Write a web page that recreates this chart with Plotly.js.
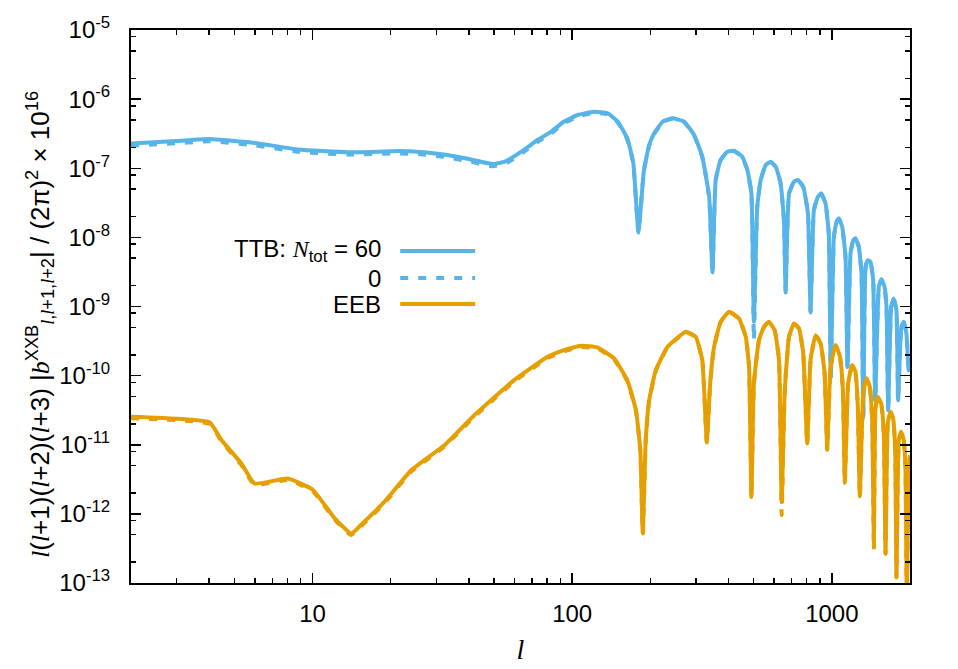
<!DOCTYPE html>
<html>
<head>
<meta charset="utf-8">
<script src="https://cdn.plot.ly/plotly-3.0.1.min.js"></script>
<style>html,body{margin:0;padding:0;background:#fff;}#chart{width:958px;height:669px;}</style>
</head>
<body>
<div id="chart"></div>
<script>
// ---- TTB (blue) ----
const ttbL = [2, 3, 4, 6, 8.8, 13.7, 21.4, 26, 33, 40, 44.5, 49.5, 55, 58, 65, 73.5, 82.8, 92.8, 105, 121, 137, 150, 163, 172, 180,
  189, 198, 207, 223, 243, 270, 295, 317, 337, 347,
  357, 373, 396, 420, 452, 473, 490, 501,
  516, 532, 556, 581, 608, 635, 654, 664,
  684, 715, 740, 776, 809, 828,
  853, 884, 910, 946, 973, 991,
  1018, 1043, 1064, 1096, 1129, 1149,
  1180, 1209, 1233, 1270, 1301, 1321,
  1349, 1375, 1408, 1443, 1469,
  1517, 1553, 1595, 1624, 1648,
  1692, 1730, 1773, 1800,
  1852, 1892, 1937, 1976, 2000];
const ttbN60 = [2.29e-7, 2.48e-7, 2.65e-7, 2.32e-7, 1.87e-7, 1.70e-7, 1.77e-7, 1.72e-7, 1.55e-7, 1.36e-7, 1.24e-7, 1.15e-7, 1.25e-7, 1.39e-7, 1.83e-7, 2.56e-7, 3.37e-7, 4.71e-7, 5.89e-7, 6.57e-7, 6.24e-7, 4.71e-7, 2.71e-7, 1.18e-7, 1.21e-8,
  9.4e-8, 2.17e-7, 3.2e-7, 4.71e-7, 5.27e-7, 4.71e-7, 3.02e-7, 1.47e-7, 3.87e-8, 3.11e-9,
  6.75e-8, 1.32e-7, 1.73e-7, 1.79e-7, 1.47e-7, 9.4e-8, 4.33e-8, 6.0e-10,
  2.77e-8, 6.75e-8, 1.11e-7, 1.24e-7, 1.05e-7, 6.04e-8, 1.78e-8, 1.63e-9,
  4.33e-8, 6.38e-8, 6.75e-8, 5.4e-8, 2.22e-8, 8.4e-10,
  2.48e-8, 3.87e-8, 4.33e-8, 3.1e-8, 1.14e-8, 9.6e-11,
  1.02e-8, 1.68e-8, 1.88e-8, 1.42e-8, 5.24e-9, 1.33e-10,
  5.86e-9, 9.1e-9, 9.7e-9, 7.3e-9, 3.01e-9, 2.43e-11,
  3.76e-9, 4.69e-9, 4.43e-9, 2.41e-9, 4.4e-11,
  1.93e-9, 2.47e-9, 1.93e-9, 9.9e-10, 3.17e-11,
  9.9e-10, 1.31e-9, 8.9e-10, 4.4e-11,
  5.08e-10, 6.0e-10, 4.08e-10, 1.2e-10, 1.86e-10];
const ttbN0 = [2.12e-7, 2.30e-7, 2.45e-7, 2.15e-7, 1.73e-7, 1.58e-7, 1.64e-7, 1.60e-7, 1.44e-7, 1.26e-7, 1.15e-7, 1.07e-7, 1.16e-7, 1.29e-7, 1.71e-7, 2.40e-7, 3.17e-7, 4.45e-7, 5.60e-7, 6.30e-7, 6.00e-7, 4.55e-7, 2.63e-7, 1.15e-7, 1.18e-8,
  9.2e-8, 2.12e-7, 3.13e-7, 4.62e-7, 5.18e-7, 4.64e-7, 2.97e-7, 1.45e-7, 3.8e-8, 3.0e-9,
  6.7e-8, 1.31e-7, 1.72e-7, 1.78e-7, 1.46e-7, 9.3e-8, 4.3e-8, 3.27e-10,
  2.75e-8, 6.7e-8, 1.1e-7, 1.23e-7, 1.04e-7, 6.0e-8, 1.76e-8, 1.6e-9,
  4.3e-8, 6.35e-8, 6.7e-8, 5.35e-8, 2.2e-8, 8.2e-10,
  2.46e-8, 3.85e-8, 4.3e-8, 3.08e-8, 1.13e-8, 9.5e-11,
  1.01e-8, 1.67e-8, 1.87e-8, 1.41e-8, 5.2e-9, 1.3e-10,
  5.8e-9, 9.0e-9, 9.6e-9, 7.25e-9, 3.0e-9, 2.4e-11,
  3.74e-9, 4.66e-9, 4.4e-9, 2.4e-9, 4.3e-11,
  1.92e-9, 2.45e-9, 1.92e-9, 9.8e-10, 3.1e-11,
  9.8e-10, 1.3e-9, 8.8e-10, 4.3e-11,
  5.05e-10, 5.95e-10, 4.05e-10, 1.2e-10, 1.85e-10];

// ---- EEB (orange) ----
const eebL = [2, 4.02, 4.46, 5.32, 5.98, 8.04, 10, 12.2, 14.1, 15.8, 18.9, 24, 32.2, 42, 59.8, 80.4, 93, 108, 125, 145, 163, 176, 183, 187,
  192, 198, 210, 233, 274, 299, 317, 330,
  340, 352, 373, 402, 439, 466, 480, 490,
  501, 524, 548, 572, 602, 626, 641,
  658, 684, 715, 747, 776, 804,
  828, 866, 905, 938, 960,
  989, 1034, 1075, 1103, 1122,
  1156, 1197, 1233, 1259, 1282,
  1321, 1359, 1400, 1430, 1452,
  1472, 1503, 1549, 1585, 1610,
  1642, 1682, 1722, 1754, 1774,
  1811, 1849, 1892, 1921, 1944, 1975, 2000];
const eebN60 = [2.54e-11, 2.10e-11, 1.17e-11, 5.36e-12, 2.75e-12, 3.25e-12, 2.25e-12, 8.57e-13, 5.2e-13, 7.66e-13, 1.49e-12, 4.28e-12, 9.86e-12, 2.68e-11, 8.6e-11, 1.87e-10, 2.34e-10, 2.7e-10, 2.56e-10, 1.77e-10, 8.6e-11, 3.17e-11, 8.36e-12, 5.2e-13,
  1.17e-11, 4.43e-11, 1.2e-10, 2.61e-10, 4.31e-10, 3.65e-10, 1.68e-10, 1.1e-11,
  7.71e-11, 2.61e-10, 6.0e-10, 8.38e-10, 6.72e-10, 3.65e-10, 1.34e-10, 1.76e-12,
  7.71e-11, 3.27e-10, 5.08e-10, 6.0e-10, 4.55e-10, 1.68e-10, 1.49e-12,
  5.52e-11, 3.65e-10, 5.69e-10, 4.82e-10, 2.09e-10, 1.04e-11,
  1.68e-10, 3.85e-10, 2.92e-10, 1.08e-10, 8.55e-12,
  1.34e-10, 2.76e-10, 1.87e-10, 6.17e-11, 2.81e-12,
  7.71e-11, 1.42e-10, 1.14e-10, 3.54e-11, 1.8e-12,
  5.52e-11, 9.1e-11, 6.89e-11, 2.27e-11, 4.17e-13,
  3.17e-11, 4.93e-11, 3.96e-11, 1.46e-11, 2.67e-13,
  2.03e-11, 2.99e-11, 2.4e-11, 8.36e-12, 1.22e-13,
  1.17e-11, 1.54e-11, 1.17e-11, 4.79e-12, 5e-14, 4e-12, 7e-12];
const eebN0 = [2.42e-11, 2.00e-11, 1.12e-11, 5.1e-12, 2.62e-12, 3.1e-12, 2.15e-12, 8.2e-13, 4.95e-13, 7.3e-13, 1.42e-12, 4.08e-12, 9.4e-12, 2.55e-11, 8.2e-11, 1.79e-10, 2.24e-10, 2.6e-10, 2.47e-10, 1.71e-10, 8.3e-11, 3.1e-11, 8.2e-12, 5.1e-13,
  1.15e-11, 4.36e-11, 1.18e-10, 2.57e-10, 4.25e-10, 3.6e-10, 1.66e-10, 1.08e-11,
  7.6e-11, 2.58e-10, 5.95e-10, 8.3e-10, 6.65e-10, 3.62e-10, 1.33e-10, 1.74e-12,
  7.65e-11, 3.24e-10, 5.04e-10, 5.95e-10, 4.52e-10, 1.67e-10, 9.6e-13,
  5.48e-11, 3.62e-10, 5.65e-10, 4.79e-10, 2.08e-10, 1.03e-11,
  1.67e-10, 3.82e-10, 2.9e-10, 1.07e-10, 8.5e-12,
  1.33e-10, 2.74e-10, 1.86e-10, 6.13e-11, 2.79e-12,
  7.66e-11, 1.41e-10, 1.13e-10, 3.52e-11, 1.79e-12,
  5.49e-11, 9.05e-11, 6.86e-11, 2.26e-11, 2.99e-13,
  3.15e-11, 4.9e-11, 3.94e-11, 1.45e-11, 2.65e-13,
  2.02e-11, 2.97e-11, 2.39e-11, 8.3e-12, 1.2e-13,
  1.16e-11, 1.53e-11, 1.16e-11, 4.75e-12, 5e-14, 4e-12, 7e-12];

// ---- axis ticks ----
const xTickVals = [10, 100, 1000];
const xTickText = ['10', '100', '1000'];
const yTickVals = [1e-13, 1e-12, 1e-11, 1e-10, 1e-9, 1e-8, 1e-7, 1e-6, 1e-5];
const yTickText = ['10<sup>-13</sup>', '10<sup>-12</sup>', '10<sup>-11</sup>', '10<sup>-10</sup>', '10<sup>-9</sup>', '10<sup>-8</sup>', '10<sup>-7</sup>', '10<sup>-6</sup>', '10<sup>-5</sup>'];
const xMinorDigits = [2, 3, 4, 5, 6, 7, 8, 9];
const yMinorDigits = [2, 5, 8];

const legendLabels = ['TTB: <span style="font-family:\'Liberation Serif\',serif"><i>N</i></span><sub>tot</sub> = 60', '0', 'EEB'];

const BLUE = '#56B4E9';
const ORANGE = '#E69F00';

const xMinor = [];
[1, 10, 100, 1000].forEach(d => xMinorDigits.forEach(k => { const v = k * d; if (v > 2 && v < 2000) xMinor.push(v); }));
const yMinor = [];
for (let e = -13; e < -5; e++) yMinorDigits.forEach(k => yMinor.push(k * Math.pow(10, e)));

const LW = 4;
const SM = 0.4;
const data = [
  {x: ttbL, y: ttbN60, mode: 'lines', line: {color: BLUE, width: LW, shape: 'spline', smoothing: SM}, showlegend: false, hoverinfo: 'skip'},
  {x: ttbL, y: ttbN0, mode: 'lines', line: {color: BLUE, width: LW, dash: '8px,10px', shape: 'spline', smoothing: SM}, showlegend: false, hoverinfo: 'skip'},
  {x: eebL, y: eebN60, mode: 'lines', line: {color: ORANGE, width: LW, shape: 'spline', smoothing: SM}, showlegend: false, hoverinfo: 'skip'},
  {x: eebL, y: eebN0, mode: 'lines', line: {color: ORANGE, width: LW, dash: '8px,10px', shape: 'spline', smoothing: SM}, showlegend: false, hoverinfo: 'skip'}
];

const serif = "'Liberation Serif', 'DejaVu Serif', serif";
const it = s => '<span style="font-family:' + serif + '"><i>' + s + '</i></span>';
const yTitle = it('l') + '(' + it('l') + '+1)(' + it('l') + '+2)(' + it('l') + '+3) |' + it('b') +
  '<sup>XXB</sup><sub>' + it('l') + ',' + it('l') + '+1,' + it('l') + '+2</sub>| / (2π)<sup>2</sup> × 10<sup>16</sup>';

const rowY = [0.6004, 0.5515, 0.5045];
const annotations = legendLabels.map((t, i) => ({
  xref: 'paper', yref: 'paper', x: 0.3237, y: rowY[i], xanchor: 'right', yanchor: 'middle',
  text: t, showarrow: false, font: {size: 24, color: '#000'}
}));
// y-axis title as a rotated annotation (placed like the reference)
annotations.push({
  xref: 'paper', yref: 'paper', x: -0.117, y: 0.468, xanchor: 'center', yanchor: 'middle',
  text: yTitle, textangle: -90, showarrow: false, font: {size: 26, color: '#000'}
});
const sampleStyle = [
  {color: BLUE, width: LW},
  {color: BLUE, width: LW, dash: '8px,10px'},
  {color: ORANGE, width: LW}
];
const shapes = rowY.map((yy, i) => ({
  type: 'line', xref: 'paper', yref: 'paper', x0: 0.3456, x1: 0.4418, y0: yy, y1: yy, line: sampleStyle[i]
}));

const axisCommon = {
  showline: true, linecolor: '#000', linewidth: 2, mirror: 'ticks',
  ticks: 'inside', ticklen: 10, tickwidth: 1.5, tickcolor: '#000',
  showgrid: false, zeroline: false
};

const layout = {
  width: 958, height: 669,
  margin: {l: 131, r: 48, t: 30, b: 86},
  paper_bgcolor: '#fff', plot_bgcolor: '#fff',
  font: {family: "'Liberation Sans', Arial, Helvetica, sans-serif", size: 24, color: '#000'},
  xaxis: Object.assign({}, axisCommon, {
    type: 'log', range: [Math.log10(2), Math.log10(2000)],
    tickmode: 'array', tickvals: xTickVals, ticktext: xTickText,
    ticklabelstandoff: 8,
    minor: {tickmode: 'array', tickvals: xMinor, ticks: 'inside', ticklen: 5, tickwidth: 1.5, tickcolor: '#000', showgrid: false},
    title: {text: it('l'), font: {size: 28}, standoff: 14}
  }),
  yaxis: Object.assign({}, axisCommon, {
    type: 'log', range: [-13, -5],
    tickmode: 'array', tickvals: yTickVals, ticktext: yTickText,
    ticklabelstandoff: 14,
    minor: {tickmode: 'array', tickvals: yMinor, ticks: 'inside', ticklen: 5, tickwidth: 1.5, tickcolor: '#000', showgrid: false}
  }),
  annotations: annotations,
  shapes: shapes
};

Plotly.newPlot('chart', data, layout, {staticPlot: true, displayModeBar: false});
</script>
</body>
</html>
